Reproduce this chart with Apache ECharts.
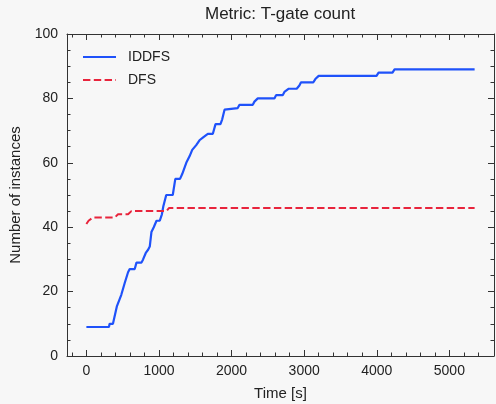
<!DOCTYPE html>
<html>
<head>
<meta charset="utf-8">
<script src="https://cdn.jsdelivr.net/npm/echarts@6/dist/echarts.min.js"></script>
<style>
  html, body { margin: 0; padding: 0; background: #f7f7f7; }
  #main { width: 496px; height: 404px; }
</style>
</head>
<body>
<div id="main"></div>
<script>
// 数据 (读自图片)
var iddfsTime = [0, 311, 320, 366, 421, 481, 527, 574, 597, 666, 690, 759, 781, 818, 850, 873, 896, 928, 966, 1011, 1040, 1060, 1100, 1190, 1225, 1290, 1320, 1376, 1421, 1458, 1513, 1558, 1613, 1673, 1742, 1779, 1847, 1871, 1903, 1926, 2085, 2109, 2292, 2315, 2361, 2590, 2613, 2704, 2728, 2788, 2897, 2934, 2957, 3127, 3154, 3200, 3997, 4025, 4217, 4245, 5348];
var iddfsCount = [9, 9, 10, 10, 15.5, 19, 22.6, 26, 27, 27, 29, 29, 30, 32, 33, 34, 38.5, 40, 42, 42, 44, 46.5, 50, 50, 55, 55, 56.5, 60, 62, 64, 65.5, 67, 68, 69, 69, 72, 72, 73.5, 76.5, 77, 77, 78, 78, 79, 80, 80, 81, 81, 82, 83, 83, 84, 85, 85, 86, 87, 87, 88, 88, 89, 89];
var dfsTime = [0, 30, 90, 390, 436, 574, 620, 1103, 1140, 5348];
var dfsCount = [41, 42, 43, 43, 44, 44, 45, 45, 46, 46];
var xMajorTicks = [0, 1000, 2000, 3000, 4000, 5000];
var xMinorTicks = [-200, 200, 400, 600, 800, 1200, 1400, 1600, 1800, 2200, 2400, 2600, 2800, 3200, 3400, 3600, 3800, 4200, 4400, 4600, 4800, 5200, 5400];

function pairs(xs, ys) {
    var out = [];
    for (var i = 0; i < xs.length; i++) {
        out.push([xs[i], ys[i]]);
    }
    return out;
}

var dom = document.getElementById("main");
var myChart = echarts.init(dom);
var font = "'Liberation Sans', Arial, sans-serif";
var frame = '#333333';

// x轴: 主刻度 / 次刻度, 上下各一条
function xAxisOf(pos, ticks, len, main) {
    return {
        type: 'value',
        position: pos,
        min: -267,
        max: 5615,
        axisLine: { show: main, onZero: false, lineStyle: { color: frame, width: 1 } },
        axisTick: { show: true, inside: true, length: len, customValues: ticks, lineStyle: { color: frame } },
        axisLabel: {
            show: main && pos === 'bottom',
            customValues: ticks,
            formatter: function (v) { return String(v); },
            margin: 8,
            color: '#222',
            fontSize: 14,
            fontFamily: font
        },
        splitLine: { show: false },
        name: (main && pos === 'bottom') ? 'Time [s]' : '',
        nameLocation: 'middle',
        nameGap: 30,
        nameTextStyle: { color: '#222', fontSize: 15, fontFamily: font }
    };
}

function yAxisOf(pos) {
    return {
        type: 'value',
        position: pos,
        min: 0,
        max: 100,
        interval: 20,
        axisLine: { show: true, onZero: false, lineStyle: { color: frame, width: 1 } },
        axisTick: { show: true, inside: true, length: 6, lineStyle: { color: frame } },
        minorTick: { show: true, splitNumber: 4, length: 3.5, lineStyle: { color: frame } },
        axisLabel: {
            show: pos === 'left',
            margin: 9,
            color: '#222',
            fontSize: 14,
            fontFamily: font
        },
        splitLine: { show: false },
        minorSplitLine: { show: false },
        name: pos === 'left' ? 'Number of instances' : '',
        nameLocation: 'middle',
        nameGap: 44,
        nameTextStyle: { color: '#222', fontSize: 15, fontFamily: font }
    };
}

var option = {
    backgroundColor: '#f7f7f7',
    animation: false,
    title: {
        text: 'Metric: T-gate count',
        left: 200,
        top: 1,
        textStyle: { color: '#222', fontSize: 17, fontWeight: 'normal', fontFamily: font }
    },
    legend: {
        orient: 'vertical',
        left: 77,
        top: 45,
        itemWidth: 33,
        itemHeight: 10,
        itemGap: 9,
        itemStyle: { opacity: 0 },
        textStyle: { color: '#222', fontSize: 14, fontFamily: font, padding: [0, 0, 0, 7] },
        data: ['IDDFS', 'DFS']
    },
    grid: {
        left: 67,
        right: 2,
        top: 34,
        bottom: 48,
        containLabel: false,
        outerBoundsMode: 'none'
    },
    xAxis: [
        xAxisOf('bottom', xMajorTicks, 6, true),
        xAxisOf('bottom', xMinorTicks, 3.5, false),
        xAxisOf('top', xMajorTicks, 6, true),
        xAxisOf('top', xMinorTicks, 3.5, false)
    ],
    yAxis: [yAxisOf('left'), yAxisOf('right')],
    series: [
        {
            name: 'IDDFS',
            type: 'line',
            xAxisIndex: 0,
            yAxisIndex: 0,
            symbol: 'none',
            data: pairs(iddfsTime, iddfsCount),
            lineStyle: { color: '#1f52fa', width: 2.2 },
            itemStyle: { color: '#1f52fa' }
        },
        {
            name: 'DFS',
            type: 'line',
            xAxisIndex: 0,
            yAxisIndex: 0,
            symbol: 'none',
            data: pairs(dfsTime, dfsCount),
            lineStyle: { color: '#e8243c', width: 2, type: [7.4, 3.4] },
            itemStyle: { color: '#e8243c' }
        }
    ]
};

myChart.setOption(option, true);
</script>
</body>
</html>
